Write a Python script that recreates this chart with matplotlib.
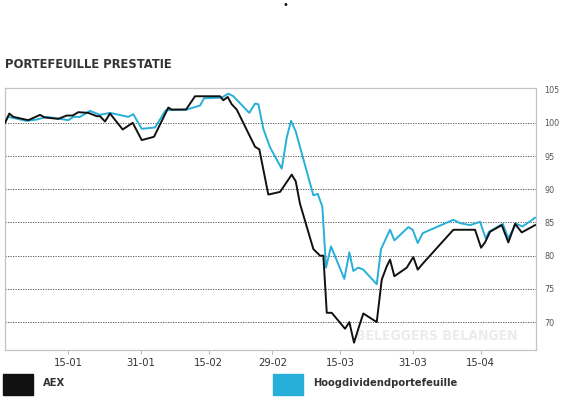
import matplotlib
matplotlib.use("Agg")
import matplotlib.pyplot as plt
import matplotlib.patches as pat
import numpy as np
import pandas as pd

# portfolio performance, index 100 = 1 jan 2020
start = pd.Timestamp("2020-01-01")

aex_days = [0.0, 0.95, 1.83, 5.14, 7.73, 8.83, 11.77, 13.62, 14.94, 16.18, 18.39,
            20.24, 20.97, 22.08, 23.18, 25.98, 28.19, 30.18, 32.89, 36.05, 36.8,
            39.96, 41.94, 47.46, 48.19, 49.16, 50.04, 51.15, 55.19, 56.14, 58.12,
            60.71, 63.29, 64.17, 65.12, 68.06, 69.54, 70.27, 71.02, 72.12, 75.06,
            76.0, 77.04, 77.99, 79.09, 82.05, 83.16, 84.26, 84.99, 85.94, 88.68,
            90.13, 91.1, 92.34, 98.96, 103.75, 105.08, 105.96, 107.06, 109.65,
            111.1, 112.58, 114.06, 117.0]
aex = [100.0, 101.4, 100.9, 100.4, 101.2, 100.8, 100.6, 101.1, 101.1, 101.6, 101.5,
       101.0, 101.0, 100.2, 101.4, 99.0, 100.0, 97.4, 97.9, 102.3, 102.0,
       102.0, 104.0, 104.0, 103.4, 103.9, 102.8, 102.0, 96.4, 96.0, 89.2,
       89.6, 92.2, 91.2, 87.8, 81.0, 80.0, 80.0, 71.4, 71.4, 69.0,
       70.0, 66.9, 69.0, 71.3, 70.0, 76.4, 78.4, 79.4, 76.9, 78.2,
       79.8, 77.9, 78.9, 83.9, 83.9, 81.2, 82.0, 83.6, 84.6,
       82.0, 84.8, 83.5, 84.6]

hdp_days = [0.0, 0.73, 4.79, 7.0, 9.21, 12.14, 13.97, 15.08, 16.56, 18.76, 20.97,
            23.18, 27.22, 28.32, 30.18, 33.11, 35.47, 40.11, 43.05, 43.93, 47.84,
            49.29, 50.4, 53.93, 55.19, 55.92, 57.02, 58.5, 61.08, 62.19, 63.14,
            64.17, 68.06, 69.03, 70.04, 70.86, 71.96, 74.9, 76.0, 76.89, 77.99,
            79.09, 82.05, 83.0, 84.99, 85.94, 89.03, 90.0, 91.1, 92.21, 98.96,
            100.44, 102.65, 104.86, 106.11, 106.84, 109.87, 111.1, 112.8, 114.24, 117.0]
hdp = [100.1, 100.9, 100.3, 100.5, 100.9, 100.6, 100.4, 100.9, 100.9, 101.8, 101.2,
       101.5, 100.9, 101.3, 99.1, 99.3, 101.9, 102.0, 102.6, 103.7, 103.8,
       104.4, 104.0, 101.5, 102.9, 102.8, 99.1, 96.3, 93.1, 97.8, 100.3,
       98.7, 89.1, 89.3, 87.4, 78.2, 81.4, 76.5, 80.5, 77.7, 78.2,
       77.9, 75.7, 81.0, 83.9, 82.3, 84.3, 83.9, 81.9, 83.4, 85.4,
       84.9, 84.6, 85.1, 82.6, 83.6, 84.8, 82.6, 84.8, 84.4, 85.7]

tick_dates = ["2020-01-15", "2020-01-31", "2020-02-15", "2020-02-29",
              "2020-03-15", "2020-03-31", "2020-04-15"]
y_ticks = [70, 75, 80, 85, 90, 95, 100, 105]

BLACK = "#111111"
BLUE = "#26b0d9"
NARROW = dict(family="DejaVu Sans", fontstretch="condensed")

aex_x = start + pd.to_timedelta(aex_days, unit="D")
hdp_x = start + pd.to_timedelta(hdp_days, unit="D")
ticks = pd.to_datetime(tick_dates)

fig = plt.figure(figsize=(5.61, 3.97), dpi=100)
ax = fig.add_axes([0.0089, 0.1184, 0.9465, 0.6592])

ax.plot(hdp_x, hdp, color=BLUE, lw=1.4, zorder=3)
ax.plot(aex_x, aex, color=BLACK, lw=1.4, zorder=4)

ax.set_xlim(start, start + pd.Timedelta(days=117.2))
ax.set_ylim(65.8, 105.2)

for v in y_ticks[:-1]:
    ax.axhline(v, color="#444444", lw=0.6, ls=(0, (1.5, 1.5)), zorder=1)

ax.yaxis.tick_right()
ax.set_yticks(y_ticks)
ax.set_yticklabels([str(v) for v in y_ticks], **NARROW)
ax.tick_params(axis="y", length=0, pad=6, labelsize=6.5, labelcolor="#555555")
ax.set_xticks(ticks)
ax.set_xticklabels([d.strftime("%d-%m") for d in ticks], **NARROW)
ax.tick_params(axis="x", length=3, color="#bbbbbb", pad=3, labelsize=8,
               labelcolor="#333333")
for s in ax.spines.values():
    s.set_color("#c4c4c4")
    s.set_linewidth(0.9)

ax.text(0.965, 0.025, "BELEGGERS BELANGEN", transform=ax.transAxes, ha="right",
        va="bottom", fontsize=10, fontweight="bold", color="#ececec", zorder=2,
        **NARROW)

fig.text(5 / 561, 1 - 64 / 397, "PORTEFEUILLE PRESTATIE", ha="left", va="center",
         fontsize=9.3, fontweight="bold", color="#333333", **NARROW)
fig.text(285 / 561, 1 - 5 / 397, "•", ha="center", va="center", fontsize=7,
         color="#111111")

# legend blocks
fig.patches.append(pat.Rectangle((3 / 561, 2 / 397), 30 / 561, 21 / 397,
                                 transform=fig.transFigure, color=BLACK))
fig.patches.append(pat.Rectangle((273 / 561, 2 / 397), 30 / 561, 21 / 397,
                                 transform=fig.transFigure, color=BLUE))
fig.text(43 / 561, 1 - 383 / 397, "AEX", ha="left", va="center", fontsize=8,
         fontweight="bold", color="#333333", **NARROW)
fig.text(313 / 561, 1 - 383 / 397, "Hoogdividendportefeuille", ha="left",
         va="center", fontsize=8, fontweight="bold", color="#333333", **NARROW)

fig.savefig("out.png", dpi=100)
